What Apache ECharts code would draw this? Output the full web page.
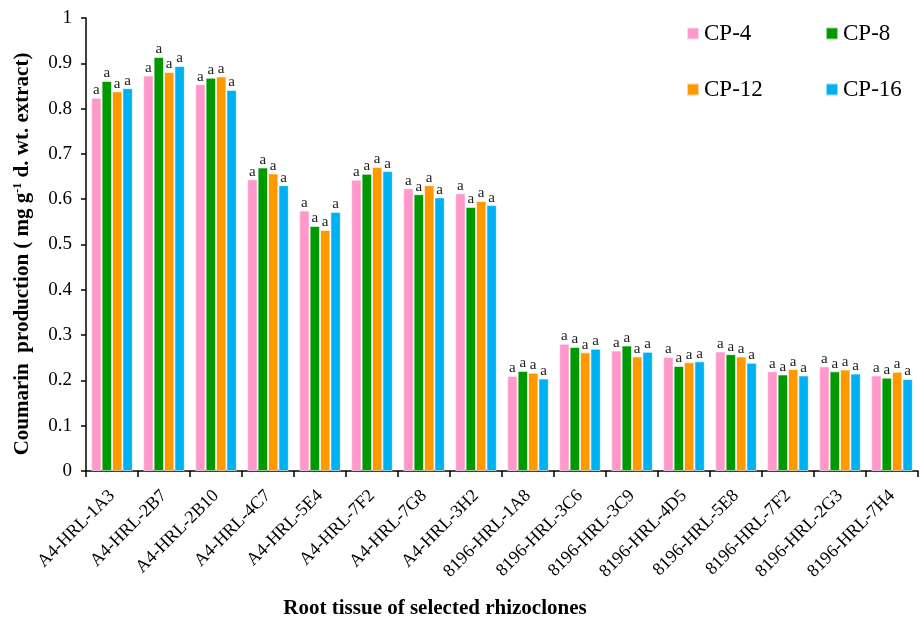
<!DOCTYPE html>
<html>
<head>
<meta charset="utf-8">
<script src="https://cdn.jsdelivr.net/npm/echarts@6/dist/echarts.min.js"></script>
<style>
  html, body { margin: 0; padding: 0; background: #fff; }
  #chart { width: 921px; height: 621px; }
</style>
</head>
<body>
<div id="chart"></div>
<script>
const categories = ['A4-HRL-1A3', 'A4-HRL-2B7', 'A4-HRL-2B10', 'A4-HRL-4C7', 'A4-HRL-5E4', 'A4-HRL-7F2', 'A4-HRL-7G8', 'A4-HRL-3H2',
  '8196-HRL-1A8', '8196-HRL-3C6', '8196-HRL-3C9', '8196-HRL-4D5', '8196-HRL-5E8', '8196-HRL-7F2', '8196-HRL-2G3', '8196-HRL-7H4'];

const cp4  = [0.824, 0.873, 0.854, 0.644, 0.575, 0.643, 0.624, 0.613, 0.210, 0.281, 0.266, 0.252, 0.264, 0.220, 0.231, 0.211];
const cp8  = [0.861, 0.914, 0.868, 0.670, 0.541, 0.656, 0.611, 0.583, 0.221, 0.274, 0.277, 0.232, 0.258, 0.213, 0.220, 0.206];
const cp12 = [0.838, 0.881, 0.871, 0.657, 0.532, 0.671, 0.631, 0.596, 0.217, 0.262, 0.253, 0.240, 0.253, 0.225, 0.224, 0.219];
const cp16 = [0.845, 0.894, 0.841, 0.631, 0.572, 0.662, 0.604, 0.587, 0.204, 0.270, 0.263, 0.242, 0.239, 0.211, 0.215, 0.203];

const seriesNames = ['CP-4', 'CP-8', 'CP-12', 'CP-16'];
const seriesData = [cp4, cp8, cp12, cp16];
const colors = ['#FF99CC', '#009900', '#FF9900', '#00B0F0'];

const serif = '"Liberation Serif", "Times New Roman", serif';

const chart = echarts.init(document.getElementById('chart'));

const legendCommon = {
  orient: 'vertical',
  top: 17,
  itemGap: 33,
  itemWidth: 12,
  itemHeight: 12,
  icon: 'rect',
  textStyle: { fontFamily: serif, fontSize: 23, color: '#000' }
};

const option = {
  animation: false,
  color: colors,
  grid: { left: 86, right: 3, top: 18, bottom: 150, containLabel: false },
  legend: [
    Object.assign({ left: 681, data: ['CP-4', 'CP-12'] }, legendCommon),
    Object.assign({ left: 820, data: ['CP-8', 'CP-16'] }, legendCommon)
  ],
  // axis titles placed by hand, as in the source figure
  graphic: [
    {
      type: 'text',
      x: 23, y: 254,
      rotation: Math.PI / 2,
      style: {
        text: '{t|Coumarin  production ( mg g}{s|-1}{t| d. wt. extract)}',
        align: 'center',
        verticalAlign: 'middle',
        rich: {
          t: { fontFamily: serif, fontSize: 21, fontWeight: 'bold', fill: '#000' },
          s: { fontFamily: serif, fontSize: 12, fontWeight: 'bold', fill: '#000', padding: [0, 0, 10, 0] }
        }
      }
    },
    {
      type: 'text',
      x: 435, y: 609,
      style: {
        text: 'Root tissue of selected rhizoclones',
        align: 'center',
        verticalAlign: 'middle',
        fontFamily: serif, fontSize: 21, fontWeight: 'bold', fill: '#000'
      }
    }
  ],
  xAxis: {
    type: 'category',
    data: categories,
    axisLine: { lineStyle: { color: '#000', width: 1.5 } },
    axisTick: { show: true, length: 6, lineStyle: { color: '#000', width: 1.5 } },
    axisLabel: { rotate: 45, margin: 22, fontFamily: serif, fontSize: 18, color: '#000' }
  },
  yAxis: {
    type: 'value',
    min: 0,
    max: 1,
    interval: 0.1,
    splitLine: { show: false },
    axisLine: { show: true, lineStyle: { color: '#000', width: 1.5 } },
    axisTick: { show: true, length: 5, lineStyle: { color: '#000', width: 1.5 } },
    axisLabel: {
      fontFamily: serif, fontSize: 19, color: '#000', margin: 14,
      formatter: v => String(Math.round(v * 10) / 10)
    }
  },
  series: seriesNames.map((name, i) => ({
    name: name,
    type: 'bar',
    data: seriesData[i],
    barGap: '0%',
    barCategoryGap: '20%',
    itemStyle: { color: colors[i], borderColor: 'rgba(255,255,255,0.6)', borderWidth: 1 },
    label: {
      show: true,
      position: 'top',
      distance: 0,
      formatter: 'a',
      fontFamily: serif,
      fontSize: 15,
      color: '#222'
    }
  }))
};

chart.setOption(option);
</script>
</body>
</html>
